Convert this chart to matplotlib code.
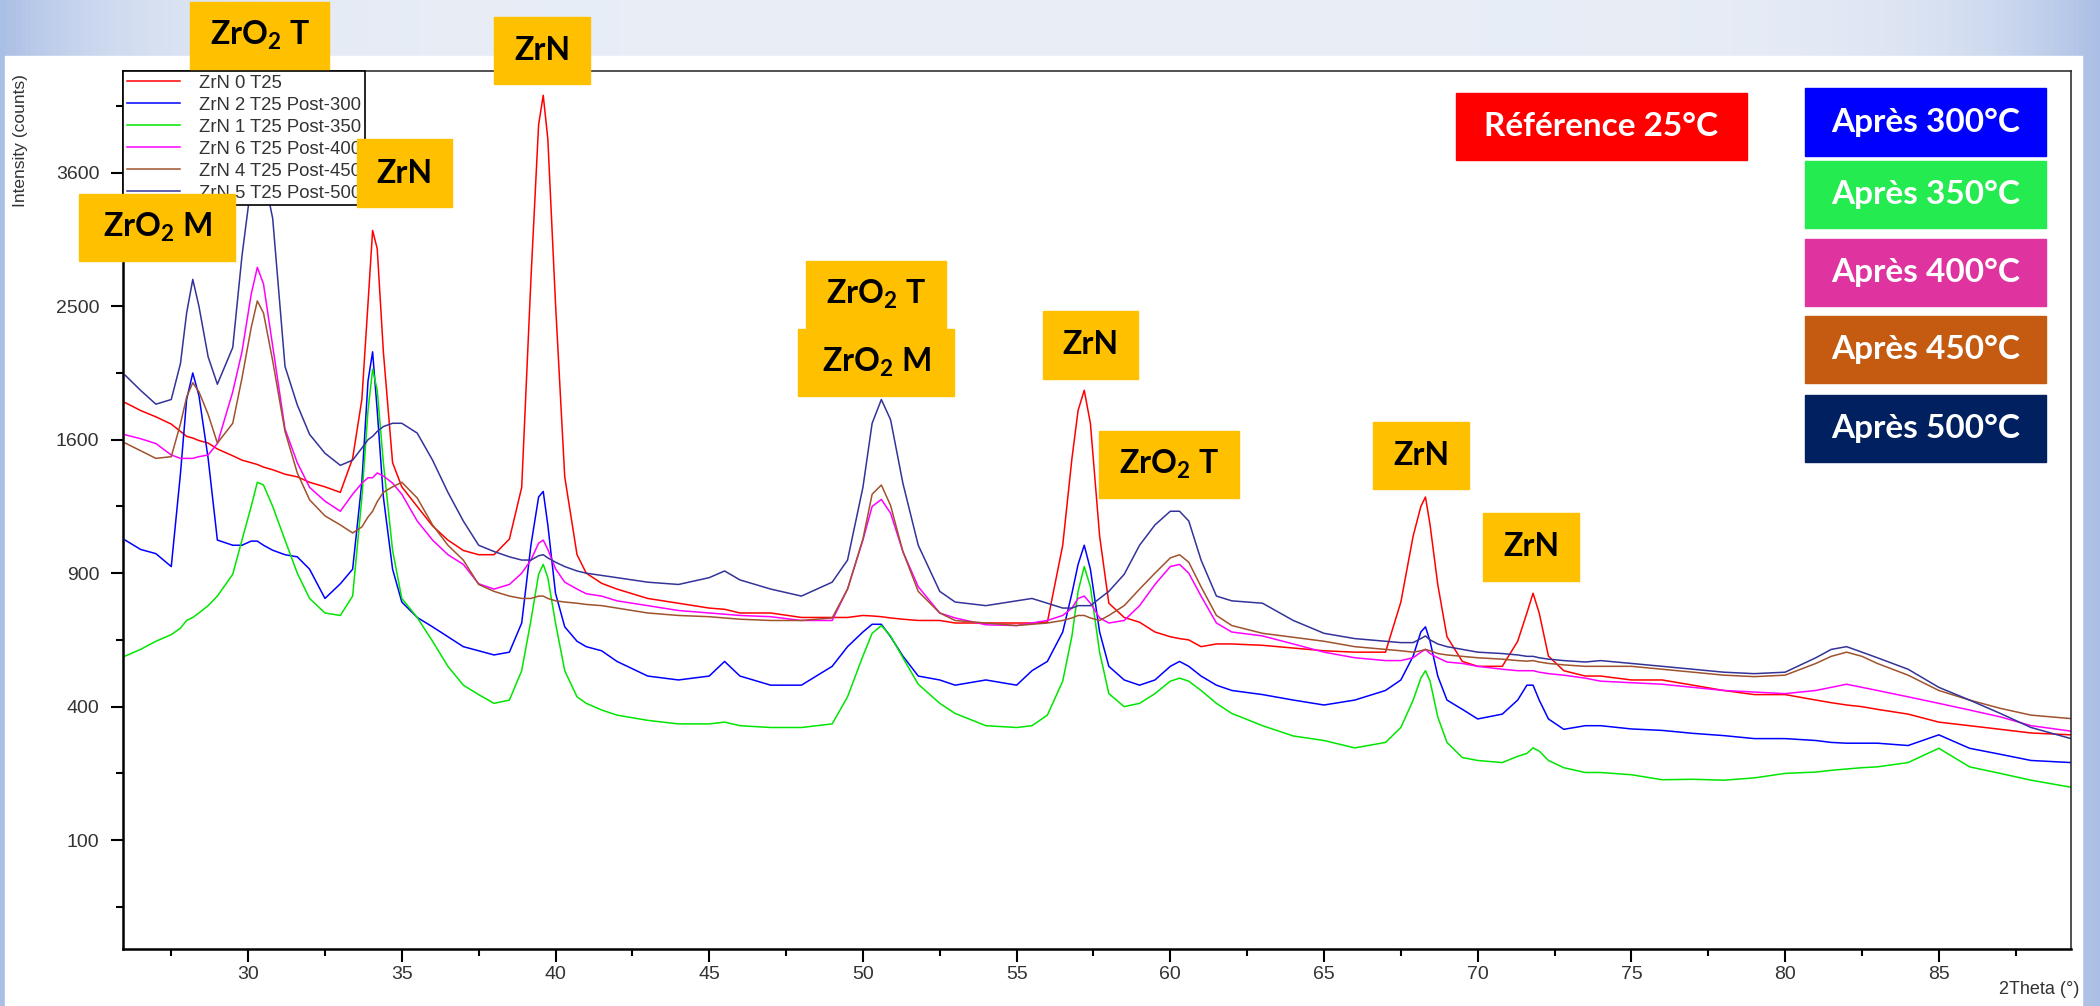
import numpy as np
import matplotlib
matplotlib.use('Agg')
import matplotlib.pyplot as plt
from matplotlib.patches import Rectangle

# 2Theta grid (deg) shared by all six scans
two_theta = [
    26, 26.5, 27, 27.5, 27.8, 28.0, 28.2, 28.4, 28.7, 29.0,
    29.5, 29.8, 30.1, 30.3, 30.5, 30.8, 31.2, 31.6, 32.0, 32.5,
    33.0, 33.4, 33.7, 33.9, 34.05, 34.2, 34.4, 34.7, 35.0, 35.5,
    36.0, 36.5, 37.0, 37.5, 38.0, 38.5, 38.9, 39.2, 39.45, 39.6,
    39.75, 40.0, 40.3, 40.7, 41.0, 41.5, 42, 43, 44, 45,
    45.5, 46, 47, 48, 49, 49.5, 50.0, 50.3, 50.6, 50.9,
    51.3, 51.8, 52.5, 53, 54, 55, 55.5, 56.0, 56.5, 56.8,
    57.0, 57.2, 57.4, 57.7, 58.0, 58.5, 59.0, 59.5, 60.0, 60.3,
    60.6, 61.0, 61.5, 62, 63, 64, 65, 66, 67, 67.5,
    67.9, 68.15, 68.3, 68.45, 68.7, 69.0, 69.5, 70, 70.8, 71.3,
    71.6, 71.8, 72.0, 72.3, 72.8, 73.5, 74, 75, 76, 77,
    78, 79, 80, 81, 81.5, 82, 82.5, 83, 84, 85,
    86, 87, 88, 89.3,
]

zrn_0_t25 = [
    1830, 1780, 1740, 1695, 1650, 1620, 1610, 1595, 1580, 1545,
    1505, 1480, 1465, 1455, 1440, 1425, 1400, 1385, 1355, 1330,
    1300, 1490, 1850, 2520, 3100, 2950, 2170, 1465, 1330, 1225,
    1125, 1055, 1005, 985, 985, 1060, 1327, 2705, 4045, 4330,
    3910, 2520, 1385, 985, 900, 855, 830, 790, 770, 750,
    745, 730, 730, 712, 712, 712, 720, 718, 715, 710,
    705, 700, 700, 690, 690, 690, 690, 693, 1030, 1490,
    1780, 1910, 1700, 1075, 770, 712, 693, 655, 637, 630,
    625, 600, 610, 610, 605, 595, 585, 580, 580, 775,
    1075, 1225, 1275, 1130, 850, 637, 547, 530, 530, 620,
    730, 812, 730, 566, 515, 497, 497, 484, 484, 467,
    450, 437, 437, 420, 412, 405, 400, 392, 378, 355,
    345, 335, 325, 320,
]

zrn_2_post300 = [
    1055, 1010, 990, 930, 1405, 1850, 2025, 1875, 1490, 1055,
    1030, 1030, 1050, 1050, 1030, 1006, 985, 975, 918, 790,
    853, 918, 1355, 1970, 2170, 1780, 1275, 918, 775, 712,
    675, 637, 600, 585, 570, 580, 690, 1030, 1275, 1305,
    1130, 812, 675, 620, 600, 585, 547, 497, 484, 497,
    547, 497, 467, 467, 530, 600, 655, 685, 685, 637,
    566, 497, 484, 467, 484, 467, 515, 547, 655, 812,
    940, 1030, 918, 655, 530, 484, 467, 484, 530, 547,
    530, 497, 467, 450, 437, 420, 405, 420, 450, 484,
    566, 655, 675, 620, 497, 420, 392, 364, 378, 420,
    467, 467, 420, 364, 335, 345, 345, 336, 332, 324,
    318, 310, 310, 305, 300, 298, 298, 298, 292, 320,
    285, 270, 255, 250,
]

zrn_1_post350 = [
    566, 590, 620, 645, 670, 700, 712, 730, 760, 800,
    895, 1055, 1225, 1355, 1340, 1225, 1055, 900, 790, 730,
    720, 800, 1270, 1780, 2050, 1910, 1465, 1005, 790, 712,
    620, 530, 467, 437, 410, 420, 515, 700, 895, 940,
    880, 690, 515, 430, 410, 390, 375, 360, 350, 350,
    355, 345, 340, 340, 350, 430, 566, 650, 680, 640,
    560, 470, 410, 380, 345, 340, 345, 375, 480, 640,
    820, 930, 840, 580, 440, 400, 410, 440, 480, 490,
    480, 450, 410, 380, 345, 317, 305, 286, 300, 340,
    420, 490, 515, 480, 370, 300, 262, 255, 250, 265,
    272, 286, 278, 255, 238, 227, 227, 222, 211, 212,
    210, 215, 225, 228, 232, 235, 238, 240, 250, 285,
    240, 225, 210, 195,
]

zrn_6_post400 = [
    1630, 1606, 1577, 1510, 1490, 1490, 1490, 1500, 1510, 1577,
    1900, 2170, 2590, 2800, 2670, 2210, 1665, 1465, 1327, 1253,
    1200, 1290, 1350, 1380, 1380, 1407, 1390, 1350, 1290, 1150,
    1055, 985, 940, 853, 830, 850, 900, 960, 1040, 1055,
    1010, 920, 860, 830, 810, 800, 780, 760, 740, 730,
    725, 720, 715, 700, 700, 830, 1055, 1225, 1262, 1190,
    1000, 840, 730, 710, 683, 680, 690, 700, 720, 750,
    790, 800, 770, 710, 690, 700, 760, 850, 930, 940,
    900, 800, 690, 655, 640, 610, 580, 560, 550, 550,
    560, 580, 590, 575, 560, 545, 540, 530, 520, 515,
    515, 515, 510, 505, 500, 490, 480, 475, 470, 460,
    450, 445, 440, 450, 460, 470, 460, 450, 430, 410,
    390, 370, 345, 330,
]

zrn_4_post450 = [
    1580, 1535, 1490, 1500, 1697, 1866, 1960, 1900, 1755, 1580,
    1700, 1990, 2342, 2540, 2450, 2107, 1650, 1407, 1260, 1176,
    1130, 1090, 1120, 1170, 1200, 1250, 1300, 1330, 1355, 1270,
    1130, 1030, 960, 850, 820, 800, 790, 790, 800, 800,
    790, 780, 775, 770, 765, 760, 750, 730, 720, 715,
    710, 705, 700, 700, 710, 830, 1060, 1290, 1340, 1230,
    1000, 820, 730, 700, 690, 680, 685, 690, 700, 710,
    720, 720, 710, 700, 720, 760, 830, 900, 970, 985,
    950, 840, 720, 680, 650, 635, 620, 600, 590, 585,
    580, 585, 590, 585, 575, 570, 565, 560, 555, 550,
    548, 550, 545, 540, 535, 530, 530, 530, 520, 510,
    500, 495, 500, 540, 565, 580, 565, 540, 500, 450,
    420, 395, 375, 365,
]

zrn_5_post500 = [
    2010, 1910, 1820, 1850, 2090, 2450, 2705, 2500, 2135, 1950,
    2200, 2890, 3500, 3750, 3600, 3200, 2070, 1815, 1632, 1520,
    1450, 1480, 1550, 1600, 1620, 1650, 1680, 1700, 1700, 1640,
    1480, 1300, 1150, 1030, 1000, 975, 960, 960, 980, 985,
    970, 950, 930, 910, 900, 890, 880, 860, 850, 880,
    910, 870, 830, 800, 860, 960, 1327, 1700, 1850, 1722,
    1350, 1030, 820, 775, 760, 780, 790, 770, 750, 750,
    760, 760, 760, 790, 820, 895, 1030, 1130, 1200, 1200,
    1150, 960, 800, 780, 770, 700, 650, 630, 620, 615,
    615, 630, 640, 625, 610, 600, 590, 580, 575, 570,
    565, 565, 560, 555, 550, 545, 550, 540, 530, 520,
    510, 505, 510, 560, 590, 600, 580, 560, 520, 460,
    420, 380, 340, 310,
]

scan_names = ['ZrN 0 T25', 'ZrN 2 T25 Post-300', 'ZrN 1 T25 Post-350',
              'ZrN 6 T25 Post-400', 'ZrN 4 T25 Post-450', 'ZrN 5 T25 Post-500']
scan_colors = ['#ff0000', '#0000ff', '#00e600', '#ff00ff', '#a0522d', '#333399']

y_major = [100, 400, 900, 1600, 2500, 3600]
y_minor = [25, 225, 625, 1225, 2025, 3025, 4225]
x_major = [30, 35, 40, 45, 50, 55, 60, 65, 70, 75, 80, 85]
x_minor = [27.5, 32.5, 37.5, 42.5, 47.5, 52.5, 57.5, 62.5, 67.5, 72.5, 77.5, 82.5, 87.5]

phase_labels = ['ZrO$_2$ T', 'ZrN', 'ZrN', 'ZrO$_2$ M', 'ZrO$_2$ T',
                'ZrO$_2$ M', 'ZrN', 'ZrO$_2$ T', 'ZrN', 'ZrN']
temp_labels = ['Référence 25°C', 'Après 300°C', 'Après 350°C',
               'Après 400°C', 'Après 450°C', 'Après 500°C']
temp_colors = ['#ff0000', '#0000ff', '#24eb50', '#df33a0', '#c55a11', '#002060']

# box layout in figure pixels: x0, x1, y0, y1 (y from top)
phase_boxes = [(190, 329, 2, 69), (494, 590, 17, 84), (357, 452, 139, 207),
               (79, 235, 194, 261), (806, 946, 261, 328), (798, 954, 329, 396),
               (1043, 1138, 311, 379), (1099, 1239, 431, 498),
               (1373, 1469, 422, 489), (1483, 1579, 513, 581)]
temp_boxes = [(1456, 1747, 93, 160), (1805, 2046, 88, 156), (1805, 2046, 161, 228),
              (1805, 2046, 239, 306), (1805, 2046, 316, 383), (1805, 2046, 395, 462)]

W, H = 2100, 1006


def main():
    plt.rcParams['font.family'] = ['Liberation Sans', 'DejaVu Sans']
    plt.rcParams['mathtext.fontset'] = 'custom'
    plt.rcParams['mathtext.rm'] = 'Lato:bold'
    plt.rcParams['mathtext.bf'] = 'Lato:bold'

    fig = plt.figure(figsize=(W / 100, H / 100), dpi=100)

    # background: bluish slide gradient with white panel
    bg = fig.add_axes([0, 0, 1, 1], zorder=-10)
    u = np.linspace(0, 1, 400)
    t = np.clip(np.abs(u - 0.5) * 2, 0, 1) ** 8
    light = np.array([0.91, 0.93, 0.965])
    edge = np.array([0.67, 0.75, 0.90])
    grad = light[None, :] * (1 - t[:, None]) + edge[None, :] * t[:, None]
    bg.imshow(grad[None, :, :], extent=(0, W, H, 0), aspect='auto')
    bg.add_patch(Rectangle((4.5, 56), 2082 - 4.5, H - 56, color='white'))
    bg.set_xlim(0, W)
    bg.set_ylim(H, 0)
    bg.axis('off')

    left, right, top, bottom = 123, 2071, 71, 949
    ax = fig.add_axes([left / W, (H - bottom) / H, (right - left) / W, (bottom - top) / H])
    ax.set_facecolor('white')

    scans = [zrn_0_t25, zrn_2_post300, zrn_1_post350, zrn_6_post400, zrn_4_post450, zrn_5_post500]
    for counts, name, col in zip(scans, scan_names, scan_colors):
        ax.plot(two_theta, counts, color=col, lw=1.1, label=name)

    ax.set_yscale('function', functions=(lambda v: np.sqrt(np.clip(v, 0, None)), lambda s: s ** 2))
    ax.set_xlim(25.93, 89.3)
    ax.set_ylim(3.4, 4573)
    ax.set_yticks(y_major)
    ax.set_yticks(y_minor, minor=True)
    ax.set_xticks(x_major)
    ax.set_xticks(x_minor, minor=True)
    ax.tick_params(which='major', direction='out', length=9, width=1.5,
                   labelsize=14, labelcolor='#333333')
    ax.tick_params(which='minor', direction='out', length=5, width=1.5)
    ax.tick_params(axis='x', pad=3.5)
    ax.tick_params(axis='y', pad=8)
    for side in ['left', 'bottom']:
        ax.spines[side].set_linewidth(1.8)
    for side in ['top', 'right']:
        ax.spines[side].set_linewidth(1.1)
        ax.spines[side].set_color('#222222')

    leg = ax.legend(loc='upper left', bbox_to_anchor=(0, 1), borderaxespad=0,
                    fontsize=13.3, frameon=True, fancybox=False, edgecolor='black',
                    framealpha=1, handlelength=2.9, handletextpad=1.0,
                    labelspacing=0.27, borderpad=0.2)
    leg.get_frame().set_linewidth(1.2)
    for txt in leg.get_texts():
        txt.set_color('#333333')

    fig.text(20 / W, 1 - 141 / H, 'Intensity (counts)', rotation=90, fontsize=12.5,
             color='#333333', ha='center', va='center')
    fig.text(2079 / W, 1 - 990 / H, '2Theta (°)', fontsize=13, color='#333333',
             ha='right', va='center')

    # overlay for the coloured label boxes
    ov = fig.add_axes([0, 0, 1, 1], zorder=10)
    ov.set_xlim(0, W)
    ov.set_ylim(H, 0)
    ov.axis('off')
    ov.patch.set_alpha(0)

    for label, (x0, x1, y0, y1) in zip(phase_labels, phase_boxes):
        ov.add_patch(Rectangle((x0, y0), x1 - x0, y1 - y0, color='#ffc000'))
        ov.text((x0 + x1) / 2, (y0 + y1) / 2, label, fontsize=23, family='Lato',
                weight='bold', color='black', ha='center', va='center')

    for label, col, (x0, x1, y0, y1) in zip(temp_labels, temp_colors, temp_boxes):
        ov.add_patch(Rectangle((x0, y0), x1 - x0, y1 - y0, color=col))
        ov.text((x0 + x1) / 2, (y0 + y1) / 2, label, fontsize=24, family='Lato',
                weight='bold', color='white', ha='center', va='center')

    fig.savefig('out.png', dpi=100)


if __name__ == '__main__':
    main()
